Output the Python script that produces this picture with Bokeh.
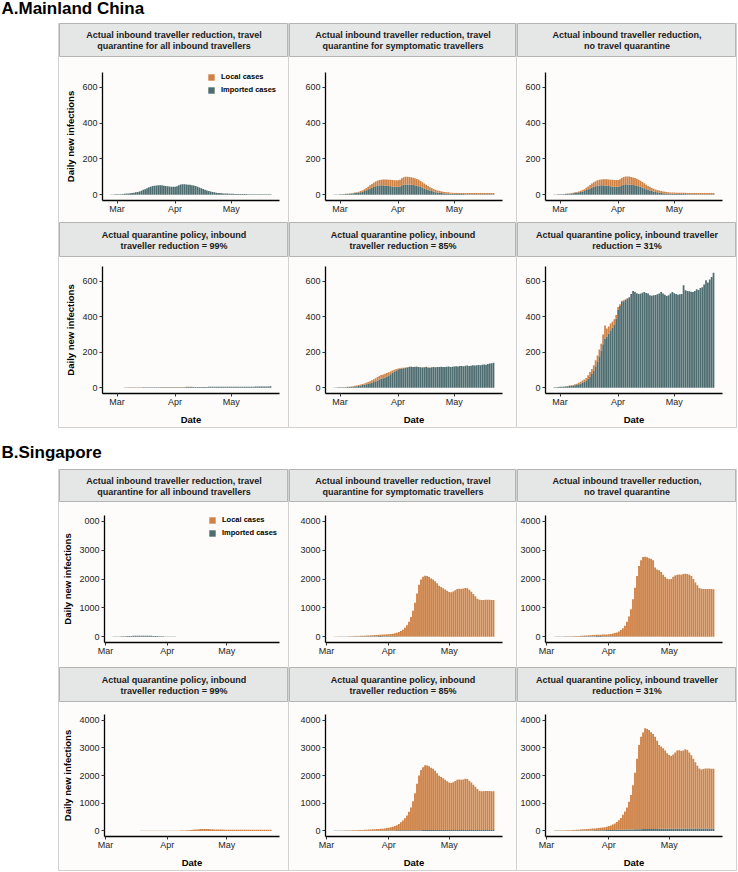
import pandas as pd
from bokeh.plotting import figure
from bokeh.models import (ColumnDataSource, Range1d, FixedTicker, MonthsTicker,
                          DatetimeTickFormatter, Legend, LegendItem, Spacer)
from bokeh.layouts import column, row
from bokeh.embed import file_html
from bokeh.resources import INLINE
from bokeh.core.properties import value

# ---------------- data ----------------
china_dates = pd.date_range("2020-02-27", "2020-05-22")   # 86 days
sg_dates = pd.date_range("2020-03-05", "2020-05-23")      # 80 days

china_yticks = [0, 200, 400, 600]
china_ylim = [0, 650]
sg_yticks = [0, 1000, 2000, 3000, 4000]
sg_ylim = [0, 4000]

# China, scenario 1: actual inbound reduction, quarantine for all inbound
A1_imported = [1, 1, 2,
               2, 3, 3, 4, 5, 6, 7, 8, 9, 11, 13, 15, 18, 22, 27, 31, 36, 41, 45, 48, 50, 51, 52, 53, 52, 50, 49, 47, 46, 45, 45,
               44, 47, 53, 57, 58, 58, 57, 56, 55, 53, 51, 48, 44, 40, 36, 32, 28, 24, 21, 18, 15, 13, 11, 10, 9, 8, 7, 6, 6, 5,
               5, 5, 4, 4, 4, 4, 4, 4, 4, 3, 3, 3, 3, 3, 3, 3, 3, 3, 3, 3, 3, 3]
A1_local = [0, 0, 0,
            0, 0, 0, 0, 0, 0, 0, 0, 0, 0, 0, 0, 0, 0, 0, 0, 0, 0, 0, 0, 0, 0, 0, 0, 0, 0, 0, 0, 0, 0, 0,
            0, 0, 0, 0, 0, 0, 0, 0, 0, 0, 0, 0, 0, 0, 0, 0, 0, 0, 0, 0, 0, 0, 0, 0, 0, 0, 0, 0, 0, 0,
            0, 0, 0, 0, 0, 0, 0, 0, 0, 0, 0, 0, 0, 0, 0, 0, 0, 0, 0, 0, 0, 0]
# China, scenario 2: quarantine for symptomatic travellers
A2_imported = [1, 1, 1,
               2, 2, 3, 4, 4, 5, 6, 7, 9, 10, 12, 14, 17, 21, 25, 30, 34, 39, 43, 47, 49, 51, 52, 52, 51, 50, 48, 47, 46, 45, 44,
               44, 46, 52, 56, 57, 57, 56, 55, 54, 52, 50, 47, 43, 39, 35, 31, 27, 23, 20, 17, 14, 12, 11, 9, 8, 7, 6, 6, 5, 5,
               4, 4, 4, 4, 4, 4, 3, 3, 3, 3, 3, 3, 3, 3, 3, 3, 3, 3, 3, 3, 3, 3]
A2_local = [0, 0, 0,
            0, 1, 1, 1, 1, 2, 2, 3, 3, 4, 5, 6, 8, 10, 12, 15, 18, 21, 24, 27, 29, 31, 32, 33, 34, 35, 36, 36, 36, 36, 37,
            37, 38, 40, 42, 43, 43, 43, 42, 41, 40, 38, 36, 33, 30, 27, 24, 21, 19, 17, 15, 13, 12, 11, 10, 9, 8, 7, 7, 6, 6,
            6, 6, 6, 6, 6, 6, 6, 6, 6, 6, 6, 6, 6, 6, 6, 6, 6, 6, 6, 6, 6, 6]
# China, scenario 3: no travel quarantine
A3_imported = [1, 1, 2,
               2, 2, 3, 4, 5, 5, 6, 8, 9, 11, 13, 15, 18, 21, 26, 30, 35, 40, 44, 47, 50, 51, 52, 52, 51, 50, 49, 47, 46, 45, 44,
               44, 47, 52, 56, 58, 57, 57, 56, 54, 52, 50, 47, 44, 40, 36, 31, 27, 24, 20, 17, 15, 13, 11, 10, 8, 7, 7, 6, 5, 5,
               5, 4, 4, 4, 4, 4, 4, 3, 3, 3, 3, 3, 3, 3, 3, 3, 3, 3, 3, 3, 3, 3]
A3_local = [0, 0, 0,
            0, 1, 1, 1, 2, 2, 3, 3, 4, 4, 5, 7, 8, 10, 13, 16, 19, 22, 25, 28, 30, 32, 33, 34, 35, 36, 36, 37, 37, 37, 38,
            38, 39, 41, 43, 44, 44, 44, 43, 42, 41, 39, 37, 34, 31, 28, 25, 22, 20, 18, 16, 14, 13, 12, 11, 10, 9, 8, 8, 7, 7,
            7, 7, 7, 7, 7, 7, 7, 7, 7, 7, 7, 7, 7, 7, 7, 7, 7, 7, 7, 7, 7, 7]
# China, scenario 4: reduction = 99%
A4_imported = [0, 0, 0,
               0, 0, 0, 0, 1, 1, 1, 1, 1, 1, 1, 1, 1, 1, 2, 2, 2, 2, 2, 2, 2, 2, 2, 2, 3, 3, 3, 3, 3, 3, 3,
               3, 3, 3, 3, 3, 3, 4, 4, 4, 4, 4, 4, 4, 4, 4, 4, 4, 4, 5, 5, 5, 5, 5, 5, 5, 5, 5, 5, 5, 5,
               5, 5, 5, 6, 6, 6, 6, 6, 6, 6, 6, 6, 6, 7, 7, 7, 7, 7, 7, 7, 7, 8]
A4_local = [0, 0, 0,
            0, 0, 0, 0, 0, 0, 1, 1, 1, 1, 1, 1, 1, 1, 1, 1, 1, 1, 1, 1, 1, 1, 1, 1, 1, 1, 1, 1, 1, 1, 1,
            1, 1, 1, 1, 1, 1, 1, 1, 1, 1, 0, 0, 0, 0, 0, 0, 0, 0, 0, 0, 0, 0, 0, 0, 0, 0, 0, 0, 0, 0,
            0, 0, 0, 0, 0, 0, 0, 0, 0, 0, 0, 0, 0, 0, 0, 0, 0, 0, 0, 0, 0, 0]
# China, scenario 5: reduction = 85%
A5_imported = [1, 1, 2,
               2, 2, 2, 3, 4, 4, 5, 6, 8, 9, 10, 13, 15, 17, 20, 22, 25, 28, 32, 36, 41, 46, 50, 54, 58, 63, 69, 76, 84, 91, 97,
               102, 105, 108, 110, 112, 114, 116, 118, 116, 117, 118, 116, 115, 114, 115, 117, 114, 113, 115, 116,
               115, 117, 116, 118, 117, 116, 118, 119, 117, 118,
               120, 121, 119, 122, 123, 121, 124, 125, 123, 124, 126, 125, 127, 128, 127, 129, 131, 130, 133, 136, 138, 141]
A5_local = [0, 0, 0,
            0, 1, 1, 1, 1, 2, 2, 3, 3, 4, 5, 5, 6, 7, 8, 10, 12, 14, 16, 18, 19, 20, 21, 21, 21, 20, 18, 16, 13, 10, 8,
            6, 5, 4, 3, 2, 2, 2, 1, 1, 1, 1, 1, 1, 1, 1, 1, 1, 1, 1, 1, 0, 0, 0, 0, 0, 0, 0, 0, 0, 0,
            0, 0, 0, 0, 0, 0, 0, 0, 0, 0, 0, 0, 0, 0, 0, 0, 0, 0, 0, 0, 0, 0]
# China, scenario 6: reduction = 31%
A6_imported = [2, 3, 4,
               5, 5, 6, 7, 8, 10, 11, 12, 14, 16, 20, 24, 29, 33, 40, 50, 63, 77, 96, 121, 145, 177, 210, 245, 276,
               288, 305, 323, 338, 356, 388,
               439, 460, 483, 487, 495, 503, 509, 527, 544, 539, 532, 527, 529, 535, 539, 534, 530, 520, 518, 520,
               522, 526, 530, 539, 530, 524, 517, 520, 530, 539,
               532, 528, 524, 526, 527, 577, 549, 545, 543, 540, 539, 545, 555, 550, 562, 565, 581, 605, 592, 610, 624, 648]
A6_local = [0, 0, 0,
            0, 1, 1, 1, 2, 2, 3, 4, 5, 6, 8, 9, 11, 13, 15, 20, 25, 28, 30, 34, 37, 38, 38, 55, 75, 45, 40, 38, 34, 29, 22,
            16, 10, 7, 5, 3, 2, 2, 1, 1, 1, 1, 1, 1, 0, 0, 0, 0, 0, 0, 0, 0, 0, 0, 0, 0, 0, 0, 0, 0, 0,
            0, 0, 0, 0, 0, 0, 0, 0, 0, 0, 0, 0, 0, 0, 0, 0, 0, 0, 0, 0, 0, 0]

# Singapore (Mar 5 .. May 23)
B1_imported = [5, 7, 9, 11, 13, 16, 19, 22, 25, 28, 31, 33, 35, 36, 37, 37, 36, 35, 33, 31, 28, 25, 22, 19, 16, 13, 11,
               9, 7, 6, 5, 4, 3, 3, 2, 2, 2, 2, 2, 1, 1, 1, 1, 1, 1, 1, 1, 1, 1, 1, 1, 1, 1, 1, 1, 1, 1,
               1, 1, 1, 1, 1, 1, 1, 1, 1, 1, 1, 1, 1, 1, 1, 1, 1, 1, 1, 1, 1, 1, 1]
B1_local = [0, 0, 0, 0, 0, 0, 1, 1, 1, 1, 1, 1, 1, 1, 1, 1, 1, 1, 1, 1, 1, 1, 1, 1, 1, 0, 0,
            0, 0, 0, 0, 0, 0, 0, 0, 0, 0, 0, 0, 0, 0, 0, 0, 0, 0, 0, 0, 0, 0, 0, 0, 0, 0, 0, 0, 0, 0,
            0, 0, 0, 0, 0, 0, 0, 0, 0, 0, 0, 0, 0, 0, 0, 0, 0, 0, 0, 0, 0, 0, 0]
B2_imported = [3, 3, 4, 4, 5, 5, 6, 7, 8, 9, 10, 11, 12, 13, 14, 15, 16, 17, 18, 19, 20, 20, 21, 21, 20, 19, 18,
               17, 16, 15, 14, 13, 12, 11, 10, 9, 8, 7, 7, 6, 6, 5, 5, 5, 5, 5, 4, 4, 4, 4, 4, 4, 4, 3, 3, 3, 3,
               3, 3, 3, 3, 3, 3, 3, 3, 3, 3, 2, 2, 2, 2, 2, 2, 2, 2, 2, 2, 2, 2, 2]
B2_local = [2, 3, 3, 4, 4, 5, 6, 7, 8, 9, 11, 13, 15, 17, 20, 23, 26, 29, 32, 35, 38, 42, 45, 49, 54, 59, 64,
            71, 79, 90, 104, 122, 148, 184, 235, 301, 392, 513, 673, 894, 1174, 1495, 1795, 1975, 2075, 2105, 2096,
            2066, 2016, 1976, 1916, 1846, 1766, 1717, 1677, 1637, 1587,
            1547, 1537, 1567, 1607, 1647, 1657, 1647, 1667, 1687, 1677, 1628, 1558, 1478, 1398, 1318,
            1278, 1268, 1268, 1278, 1278, 1278, 1273, 1273]
B3_imported = [3, 4, 4, 5, 5, 6, 6, 7, 8, 9, 10, 11, 12, 13, 14, 15, 16, 17, 18, 19, 20, 21, 21, 21, 20, 19, 18,
               17, 16, 15, 14, 13, 12, 11, 10, 9, 8, 7, 7, 6, 6, 5, 5, 5, 5, 5, 4, 4, 4, 4, 4, 4, 4, 3, 3, 3, 3,
               3, 3, 3, 3, 3, 3, 3, 3, 3, 3, 2, 2, 2, 2, 2, 2, 2, 2, 2, 2, 2, 2, 2]
B3_local = [3, 4, 4, 5, 5, 7, 8, 9, 10, 11, 13, 15, 17, 20, 23, 26, 29, 32, 35, 38, 41, 44, 46, 49, 53, 57, 62,
            69, 79, 93, 111, 137, 173, 219, 280, 371, 512, 693, 943, 1294, 1694, 2095, 2445, 2645, 2755, 2765, 2746,
            2716, 2696, 2646, 2396, 2326, 2296, 2237, 2147, 2067, 2007,
            1987, 1997, 2077, 2117, 2147, 2157, 2147, 2167, 2177, 2167, 2148, 2098, 1998, 1878, 1778,
            1688, 1658, 1648, 1648, 1648, 1648, 1648, 1643]
B4_imported = [1, 1, 1, 1, 1, 1, 1, 1, 1, 1, 1, 1, 1, 1, 1, 1, 1, 1, 1, 1, 1, 1, 1, 1, 1, 1, 1,
               1, 1, 1, 1, 1, 1, 1, 1, 1, 1, 1, 1, 1, 1, 1, 1, 1, 1, 1, 1, 1, 1, 1, 1, 1, 1, 1, 1, 1, 1,
               1, 1, 1, 1, 1, 1, 1, 1, 1, 1, 1, 1, 1, 1, 1, 1, 1, 1, 1, 1, 1, 1, 1]
B4_local = [0, 0, 0, 0, 0, 0, 0, 1, 1, 1, 1, 1, 1, 1, 2, 2, 2, 2, 2, 3, 3, 3, 3, 4, 4, 4, 5,
            5, 6, 6, 7, 8, 9, 10, 12, 14, 17, 21, 26, 32, 40, 48, 55, 62, 67, 70, 71, 70, 68, 64, 60, 55, 52, 50, 48, 47, 46,
            45, 45, 44, 44, 44, 43, 43, 43, 43, 42, 42, 42, 42, 41, 41, 41, 41, 40, 40, 40, 40, 40, 40]
B5_imported = [3, 3, 3, 4, 4, 4, 5, 5, 5, 6, 6, 7, 7, 8, 8, 9, 9, 10, 10, 11, 11, 12, 12, 13, 14, 15, 16,
               17, 18, 19, 20, 21, 22, 23, 24, 25, 26, 26, 27, 27, 28, 28, 29, 29, 30, 30, 30, 31, 31, 31, 32, 32, 32, 33, 33, 33, 34,
               34, 34, 34, 35, 35, 35, 35, 36, 36, 36, 36, 36, 37, 37, 37, 37, 37, 38, 38, 38, 38, 38, 38]
B5_local = [4, 5, 6, 6, 7, 9, 10, 12, 14, 15, 18, 20, 23, 25, 29, 32, 36, 39, 43, 46, 50, 54, 59, 64, 70, 77, 87,
            99, 114, 133, 156, 189, 233, 287, 356, 435, 534, 664, 823, 1043, 1332, 1672, 1971, 2171, 2270, 2340, 2330,
            2299, 2249, 2209, 2138, 2048, 1958, 1917, 1867, 1817, 1756,
            1716, 1696, 1726, 1765, 1815, 1825, 1815, 1824, 1844, 1834, 1774, 1714, 1633, 1553, 1473,
            1413, 1393, 1392, 1402, 1402, 1402, 1397, 1397]
B6_imported = [5, 5, 6, 6, 7, 7, 8, 8, 9, 10, 11, 12, 13, 14, 15, 16, 17, 18, 19, 20, 21, 22, 23, 24, 26, 28, 30,
               32, 34, 36, 38, 40, 42, 44, 46, 48, 50, 52, 54, 56, 58, 60, 62, 64, 66, 68, 70, 71, 72, 73, 74, 75, 76, 77, 78, 79, 80,
               80, 81, 82, 82, 83, 83, 84, 84, 85, 85, 86, 86, 87, 87, 88, 88, 89, 89, 90, 90, 90, 91, 91]
B6_local = [5, 7, 8, 10, 11, 13, 15, 18, 20, 23, 26, 29, 33, 37, 42, 47, 52, 57, 62, 67, 72, 78, 85, 93, 101, 110, 125,
            143, 166, 194, 227, 280, 348, 426, 534, 652, 800, 998, 1246, 1594, 2042, 2540, 3038, 3336, 3484, 3632, 3610,
            3569, 3488, 3427, 3326, 3175, 3024, 2973, 2902, 2821, 2720,
            2660, 2619, 2678, 2748, 2817, 2827, 2796, 2816, 2865, 2835, 2744, 2644, 2513, 2393, 2262,
            2162, 2131, 2141, 2160, 2160, 2160, 2149, 2149]

strip_titles = [
    ["Actual inbound traveller reduction, travel", "quarantine for all inbound travellers"],
    ["Actual inbound traveller reduction, travel", "quarantine for symptomatic travellers"],
    ["Actual inbound traveller reduction,", "no travel quarantine"],
    ["Actual quarantine policy, inbound", "traveller reduction = 99%"],
    ["Actual quarantine policy, inbound", "traveller reduction = 85%"],
    ["Actual quarantine policy, inbound traveller", "reduction = 31%"],
]
section_titles = ["A.Mainland China", "B.Singapore"]
legend_labels = ["Local cases", "Imported cases"]

# ---------------- style ----------------
FONT = "Liberation Sans"
ORANGE = "#CF8246"
TEAL = "#4E6D70"
STRIP_FILL = "#e5e6e6"
STRIP_LINE = "#b4b4b4"
BOX_LINE = "#d2d2d2"
PANEL_BG = "#fdfcfa"
DAY = 86400000.0

GAP = 58
COL_W = [229, 227, 219]
LEFT = [43, 36, 28]
RIGHT = [9, 14, 14]


def ms(ts):
    return ts.value / 1e6


def x_range_for(dates):
    lo = ms(dates[0]) - 0.5 * DAY
    hi = ms(dates[-1]) + 0.5 * DAY
    pad = 0.05 * (hi - lo)
    return lo - pad, hi + pad


def y_range_for(lim):
    pad = 0.05 * (lim[1] - lim[0])
    return lim[0] - pad, lim[1] + pad


def base_fig(w, h, **kw):
    p = figure(width=w, height=h, toolbar_location=None, tools="", output_backend="svg",
               title=None, **kw)
    return p


def strip(w, h, lines):
    p = base_fig(w, h, x_range=Range1d(0, 1), y_range=Range1d(0, h),
                 x_axis_location=None, y_axis_location=None, min_border=0,
                 frame_align=False)
    p.grid.grid_line_color = None
    p.background_fill_color = STRIP_FILL
    p.border_fill_color = STRIP_FILL
    p.outline_line_color = STRIP_LINE
    ys = [h * 0.655, h * 0.325]
    p.text(x=[0.5, 0.5], y=ys, text=lines, text_align="center", text_baseline="middle",
           text_font=value(FONT), text_font_size="9px", text_font_style="bold",
           text_color="#1a1a1a")
    return p


def section_title(w, h, txt, ypos):
    p = base_fig(w, h, x_range=Range1d(0, w), y_range=Range1d(0, h),
                 x_axis_location=None, y_axis_location=None, min_border=0,
                 frame_align=False)
    p.grid.grid_line_color = None
    p.outline_line_color = None
    p.text(x=[1], y=[ypos], text=[txt], text_align="left", text_baseline="middle",
           text_font=value(FONT), text_font_size="17px", text_font_style="bold",
           text_color="#000000")
    return p


def panel(ci, h, top, bottom, dates, imported, local, ylim, yticks,
          ylabel, xlabel, legend_loc=None, overrides=None):
    xr = x_range_for(dates)
    yr = y_range_for(ylim)
    p = base_fig(COL_W[ci], h, x_axis_type="datetime",
                 x_range=Range1d(*xr), y_range=Range1d(*yr),
                 min_border_left=LEFT[ci], min_border_right=RIGHT[ci],
                 min_border_top=top, min_border_bottom=bottom, frame_align=False)
    p.background_fill_color = PANEL_BG
    p.border_fill_color = PANEL_BG
    p.outline_line_color = None
    p.grid.grid_line_color = None
    src = ColumnDataSource(dict(date=dates, imp=imported, loc=local))
    rs = p.vbar_stack(["imp", "loc"], x="date", width=0.92 * DAY, fill_color=[TEAL, ORANGE],
                      line_color=None, source=src)
    for ax in (p.xaxis[0], p.yaxis[0]):
        ax.axis_line_color = "black"
        ax.axis_line_width = 1.3
        ax.major_tick_line_color = "#333333"
        ax.major_tick_out = 3
        ax.major_tick_in = 0
        ax.minor_tick_out = 0
        ax.minor_tick_in = 0
        ax.major_label_text_font = FONT
        ax.major_label_text_font_size = "9px"
        ax.major_label_text_color = "#262626"
        ax.major_label_standoff = 2
        ax.axis_label_text_font = FONT
        ax.axis_label_text_font_size = "9.5px"
        ax.axis_label_text_font_style = "bold"
        ax.axis_label_text_color = "#000000"
    p.xaxis.major_label_standoff = 0
    p.yaxis.ticker = FixedTicker(ticks=yticks)
    p.xaxis.ticker = MonthsTicker(months=list(range(1, 13)))
    p.xaxis.formatter = DatetimeTickFormatter(days="%b", months="%b", years="%b")
    if overrides:
        p.yaxis.major_label_overrides = overrides
    if ylabel:
        p.yaxis.axis_label = ylabel
        p.yaxis.axis_label_standoff = 3
    if xlabel:
        p.xaxis.axis_label = xlabel
        p.xaxis.axis_label_standoff = 4
    if legend_loc:
        lg = Legend(items=[LegendItem(label=legend_labels[0], renderers=[rs[1]]),
                           LegendItem(label=legend_labels[1], renderers=[rs[0]])],
                    location=legend_loc, margin=0, padding=0, spacing=4,
                    glyph_width=8, glyph_height=8, label_height=8, label_standoff=6,
                    label_text_font=FONT, label_text_font_size="7.5px",
                    label_text_font_style="bold", label_text_color="#000000",
                    border_line_color=None, background_fill_alpha=0)
        p.add_layout(lg)
    return p


def vline(h):
    return Spacer(width=1, height=h, styles={"background-color": BOX_LINE})


def section(title_h, title_y, title, strip_h, plot_h, plot_tb, dates, imps, locs, ylim, yticks,
            legend_loc, first_override=None):
    cols = []
    for ci in range(3):
        kids = []
        for ri in range(2):
            k = ri * 3 + ci
            kids.append(strip(COL_W[ci], strip_h[ri], strip_titles[k]))
            kids.append(panel(ci, plot_h[ri], plot_tb[ri][0], plot_tb[ri][1], dates,
                              imps[k], locs[k], ylim, yticks,
                              ylabel="Daily new infections" if ci == 0 else None,
                              xlabel="Date" if ri == 1 else None,
                              legend_loc=legend_loc if k == 0 else None,
                              overrides=first_override if k == 0 else None))
        cols.append(column(*kids, spacing=0))
    body_h = sum(strip_h) + sum(plot_h)
    body = row(Spacer(width=GAP, height=body_h), vline(body_h), cols[0], vline(body_h), cols[1],
               vline(body_h), cols[2], vline(body_h), spacing=0)
    bottom = row(Spacer(width=GAP, height=1),
                 Spacer(width=sum(COL_W) + 4, height=1, styles={"background-color": BOX_LINE}),
                 spacing=0)
    return column(section_title(GAP + sum(COL_W) + 4, title_h, title, title_y), body, bottom,
                  spacing=0)


secA = section(23, 15, section_titles[0], [34, 35], [165, 170], [(15, 22), (9, 34)],
               china_dates,
               [A1_imported, A2_imported, A3_imported, A4_imported, A5_imported, A6_imported],
               [A1_local, A2_local, A3_local, A4_local, A5_local, A6_local],
               china_ylim, china_yticks, legend_loc=(105, 106))
secB = section(41, 17, section_titles[1], [33, 35], [165, 168], [(13, 25), (12, 29)],
               sg_dates,
               [B1_imported, B2_imported, B3_imported, B4_imported, B5_imported, B6_imported],
               [B1_local, B2_local, B3_local, B4_local, B5_local, B6_local],
               sg_ylim, sg_yticks, legend_loc=(104, 105), first_override={4000: "000"})

layout = column(secA, secB, spacing=0)
open("out.html", "w").write(file_html(layout, INLINE))
